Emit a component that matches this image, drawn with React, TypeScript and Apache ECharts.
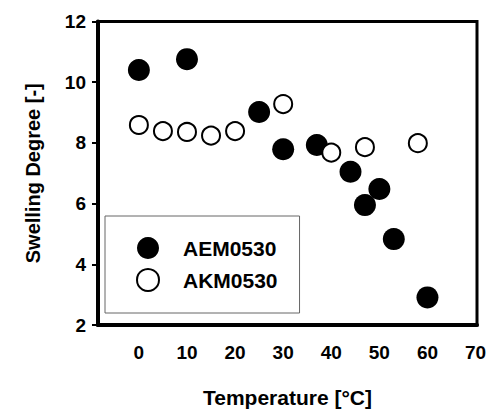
import React, { useEffect, useRef } from "react";
import * as echarts from "echarts";

const seriesNames = ["AEM0530", "AKM0530"];
const aemTemp = [0, 10, 25, 30, 37, 44, 47, 50, 53, 60];
const aemSwelling = [10.4, 10.76, 9.02, 7.79, 7.93, 7.05, 5.95, 6.48, 4.83, 2.91];
const akmTemp = [0, 5, 10, 15, 20, 30, 40, 47, 58];
const akmSwelling = [8.59, 8.39, 8.36, 8.24, 8.39, 9.28, 7.68, 7.86, 7.99];
const xTickLabels = [0, 10, 20, 30, 40, 50, 60, 70];

const FONT = "'Liberation Sans', Arial, sans-serif";

export default function App() {
  const ref = useRef<HTMLDivElement>(null);
  useEffect(() => {
    if (!ref.current) return;
    const chart = echarts.init(ref.current, null, { renderer: "svg" });
    const pair = (xs: number[], ys: number[]) => xs.map((x, i) => [x, ys[i]]);
    chart.setOption({
      animation: false,
      backgroundColor: "#fff",
      textStyle: { fontFamily: FONT },
      grid: {
        left: 98,
        right: 13,
        top: 21.5,
        bottom: 91,
        show: true,
        borderColor: "#000",
        borderWidth: 3,
        backgroundColor: "transparent",
      },
      legend: {
        data: seriesNames,
        icon: "circle",
        orient: "vertical",
        left: 105,
        top: 216,
        itemWidth: 60,
        itemHeight: 22,
        itemGap: 9,
        padding: [21, 22, 21, 31],
        borderColor: "#666",
        borderWidth: 1,
        textStyle: { fontSize: 21, fontWeight: "bold", color: "#000", fontFamily: FONT },
      },
      xAxis: {
        type: "value",
        min: -8.5,
        max: 70.3,
        axisLine: { show: true, lineStyle: { color: "#000", width: 4 } },
        axisTick: { show: false },
        splitLine: { show: false },
        axisLabel: {
          customValues: xTickLabels,
          margin: 18,
          fontSize: 19,
          fontWeight: "bold",
          color: "#000",
          fontFamily: FONT,
        },
        name: "Temperature [°C]",
        nameLocation: "middle",
        nameGap: 62,
        nameTextStyle: { fontSize: 21, fontWeight: "bold", color: "#000", fontFamily: FONT },
      },
      yAxis: {
        type: "value",
        min: 2,
        max: 12,
        interval: 2,
        axisLine: { show: true, onZero: false, lineStyle: { color: "#000", width: 4 } },
        axisTick: { show: true, length: 6, lineStyle: { color: "#000", width: 2 } },
        splitLine: { show: false },
        axisLabel: {
          margin: 12,
          fontSize: 19,
          fontWeight: "bold",
          color: "#000",
          fontFamily: FONT,
        },
        name: "Swelling Degree [-]",
        nameLocation: "middle",
        nameGap: 55,
        nameRotate: 90,
        nameTextStyle: { fontSize: 20, fontWeight: "bold", color: "#000", fontFamily: FONT },
      },
      series: [
        {
          name: seriesNames[0],
          type: "scatter",
          symbol: "circle",
          symbolSize: 22,
          itemStyle: { color: "#000", opacity: 1 },
          data: pair(aemTemp, aemSwelling),
        },
        {
          name: seriesNames[1],
          type: "scatter",
          symbol: "circle",
          symbolSize: 18,
          itemStyle: { color: "#fff", borderColor: "#000", borderWidth: 2, opacity: 1 },
          data: pair(akmTemp, akmSwelling),
        },
      ],
    });
    return () => chart.dispose();
  }, []);
  return (
    <div
      ref={ref}
      style={{ position: "fixed", left: 0, top: 0, width: 490, height: 416, background: "#fff" }}
    />
  );
}
